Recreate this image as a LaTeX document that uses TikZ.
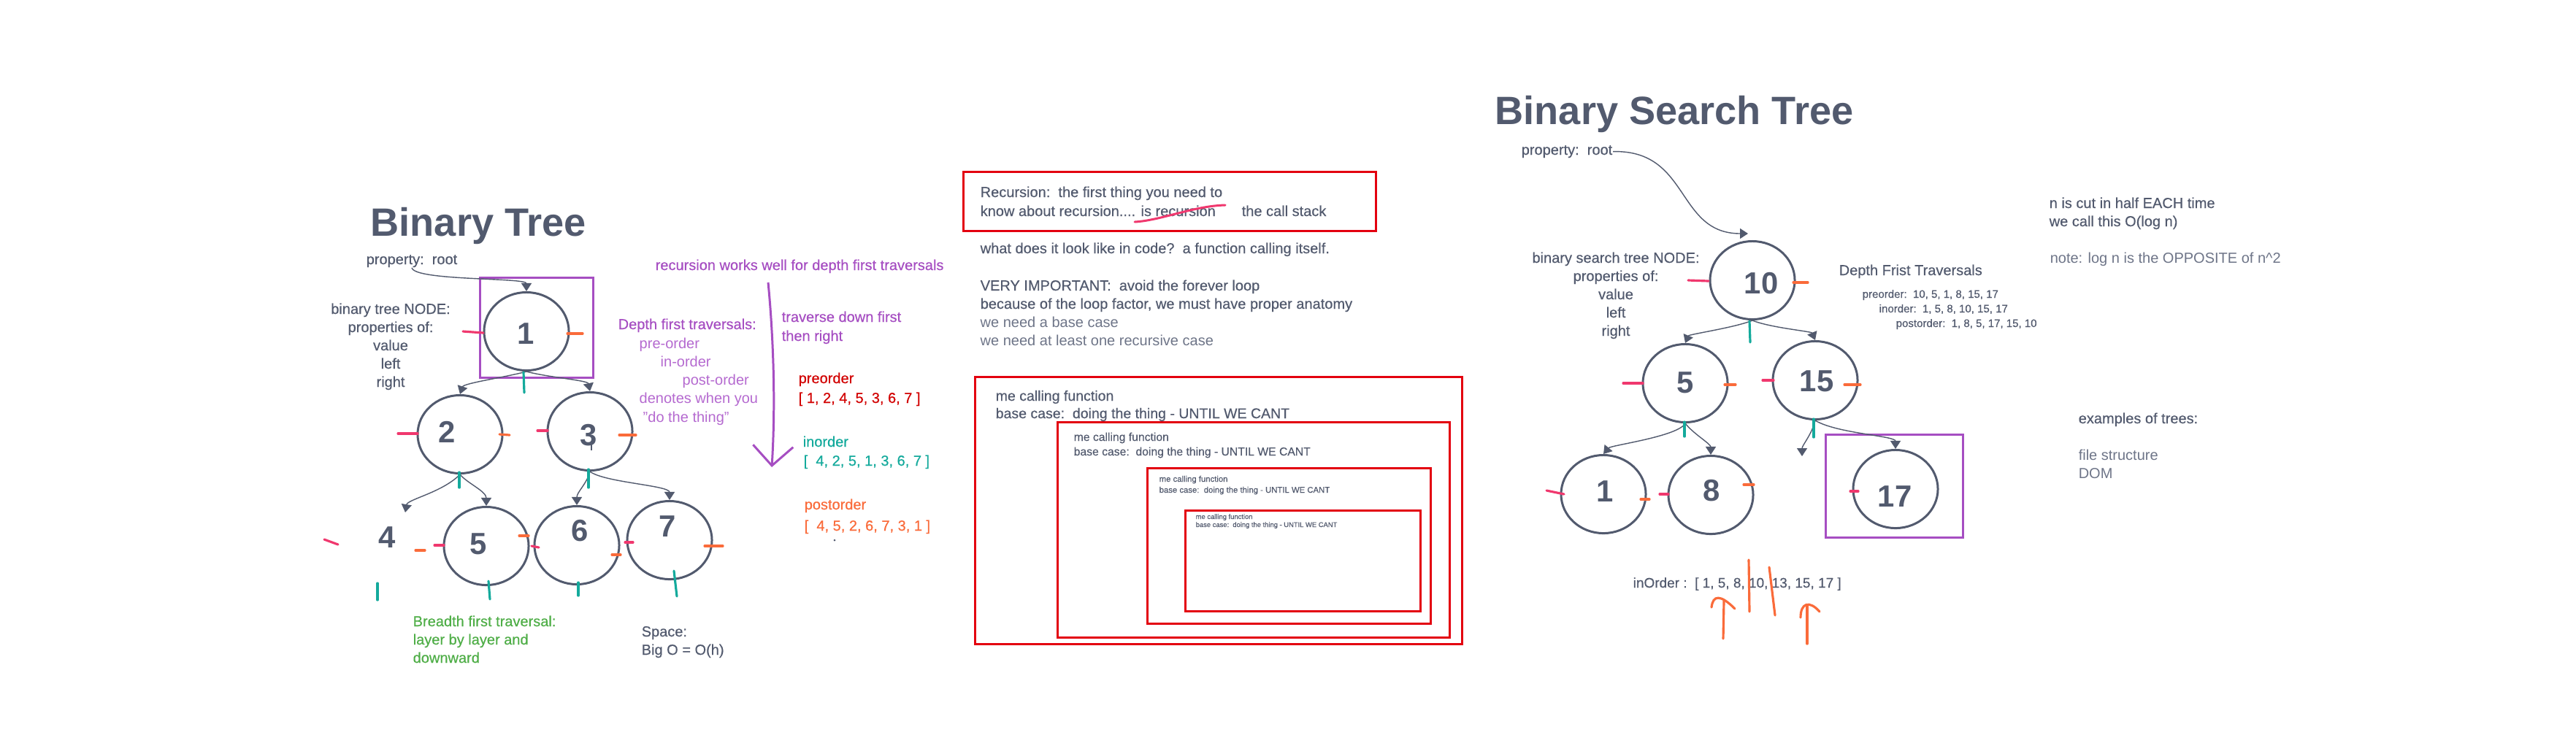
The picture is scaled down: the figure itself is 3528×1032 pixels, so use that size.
\documentclass[tikz,border=0pt]{standalone}
\usepackage{fontspec}
\setmainfont{Liberation Sans}
\newfontfamily\mediumfont{Liberation Sans}[FakeBold=0.35]
\usepackage{xcolor}
\usetikzlibrary{arrows.meta,shapes.geometric}

\definecolor{ink}{HTML}{525A6E}
\definecolor{inklight}{HTML}{6E7588}
\definecolor{purp}{HTML}{A64EC2}
\definecolor{purplight}{HTML}{B56AD0}
\definecolor{redc}{HTML}{E3000F}
\definecolor{redtxt}{HTML}{D20000}
\definecolor{tealc}{HTML}{14AA9C}
\definecolor{orangec}{HTML}{FA6B3A}
\definecolor{pinkc}{HTML}{F0386E}
\definecolor{greenc}{HTML}{4FAE47}

\newcommand{\fnote}{\mediumfont\fontsize{5.69pt}{7.1pt}\selectfont}
\newcommand{\flight}{\normalfont\fontsize{5.69pt}{7.1pt}\selectfont}
\newcommand{\ftitle}{\fontsize{15.4pt}{18pt}\selectfont\bfseries}
\newcommand{\fdigit}{\fontsize{11.9pt}{14pt}\selectfont\bfseries}
\newcommand{\fsmall}{\mediumfont\fontsize{4.27pt}{5pt}\selectfont}

\begin{document}
\begin{tikzpicture}[
x=0.01cm, y=-0.01cm,
tnode/.style={ellipse, draw=ink, line width=0.85pt, minimum width=1.16cm, minimum height=1.07cm, inner sep=0pt},
digit/.style={inner sep=0pt, text=ink, font=\fdigit},
note/.style={anchor=base west, inner sep=0pt, text=ink, font=\fnote},
thin/.style={font=\flight},
link/.style={draw=ink, line width=0.4pt, -{Triangle[length=1.1mm,width=1.4mm]}},
ltick/.style={draw=pinkc, line width=0.9pt, line cap=round},
rtick/.style={draw=orangec, line width=0.9pt, line cap=round},
dtick/.style={draw=tealc, line width=0.9pt, line cap=round},
hilite/.style={draw=purp, line width=0.85pt},
stackbox/.style={draw=redc, line width=0.85pt}
]
\fill[white] (0,0) rectangle (3528,1032);
\useasboundingbox (0,0) rectangle (3528,1032);

% binary tree
\node[note, font=\ftitle] (bttitle) at (507,323) {Binary Tree};
\node[note] (prop1) at (501,362) {property:\ \ root};
\foreach \t [count=\i] in {binary tree NODE:, properties of:, value, left, right}
  \node[note, anchor=base] (btattr\i) at (535,405+25*\i) {\t};

\node[tnode] (n1) at (721,454) {};
\node[tnode] (n2) at (630,595) {};
\node[tnode] (n3) at (808,591) {};
\node[tnode] (n5) at (666,748) {};
\node[tnode] (n6) at (790,747) {};
\node[tnode] (n7) at (917,740) {};
\node[digit] (d1) at (720,457) {1};
\node[digit] (d2) at (612,592) {2};
\node[digit] (d3) at (806,596) {3};
\node[digit] (d4) at (530,736) {4};
\node[digit] (d5) at (655,745) {5};
\node[digit] (d6) at (794,727) {6};
\node[digit] (d7) at (914,721) {7};
\coordinate (n4in) at (555,702);
\draw[hilite] (657,380) rectangle (812,517);

\draw[link] (prop1.south) .. controls (568,385) and (721,380) .. (n1.north);
\draw[link] (n1.south) .. controls +(-30,8) and +(5,-15) .. (n2.north);
\draw[link] (n1.south) .. controls +(30,8) and +(-3,-15) .. (n3.north);
\draw[link] (n2.south) .. controls +(-25,25) and +(3,-18) .. (n4in);
\draw[link] (n2.south) .. controls +(10,12) and +(0,-20) .. (n5.north);
\draw[link] (n3.south) .. controls +(-5,18) and +(0,-18) .. (n6.north);
\draw[link] (n3.south) .. controls +(20,15) and +(0,-20) .. (n7.north);
\draw[ink, line width=0.6pt] (810,604) -- (810,617);

% traversals
\node[note, text=purp] (recnote) at (897,370) {recursion works well for depth first traversals};
\node[note, text=purp] (trav1) at (1070,441) {traverse down first};
\node[note, text=purp] (trav2) at (1070,467) {then right};
\node[note, text=purp] (dft) at (846,451) {Depth first traversals:};
\foreach \x/\y/\t [count=\i] in {875/477/pre-order, 904/502/in-order, 934/527/post-order, 875/552/denotes when you, 880/578/"do the thing"}
  \node[note, thin, text=purplight] (dftline\i) at (\x,\y) {\t};
\coordinate (downtop) at (1052,387);
\coordinate (downtip) at (1057,640);
\draw[purp, line width=0.85pt, -{Straight Barb[length=2.7mm,width=5.5mm]}] (downtop) .. controls (1060,470) and (1062,560) .. (downtip);

\node[note, text=redtxt] (prel) at (1093,525) {preorder};
\node[note, text=redtxt] (prev) at (1093,552) {[ 1, 2, 4, 5, 3, 6, 7 ]};
\node[note, text=tealc] (inl) at (1099,612) {inorder};
\node[note, text=tealc] (inv) at (1100,638) {[\ \ 4, 2, 5, 1, 3, 6, 7 ]};
\node[note, text=orangec] (postl) at (1101,698) {postorder};
\node[note, text=orangec] (postv) at (1101,727) {[\ \ 4, 5, 2, 6, 7, 3, 1 ]};
\fill[ink] (1143,740) circle[radius=0.15mm];

\foreach \t [count=\i] in {Breadth first traversal:, layer by layer and, downward}
  \node[note, text=greenc] (bft\i) at (565,833+25*\i) {\t};
\node[note] (space1) at (878,872) {Space:};
\node[note] (space2) at (878,897) {Big O = O(h)};

% recursion
\draw[stackbox] (1319,235) rectangle (1884,316);
\node[note] (rec1) at (1342,270) {Recursion:\ \ the first thing you need to};
\node[note] (rec2) at (1342,296) {know about recursion.... is recursion};
\node[note] (rec3) at (1700,296) {the call stack};
\draw[pinkc, line width=0.85pt, line cap=round] (1554,304) .. controls (1590,302) and (1635,282) .. (1678,281);
\node[note] (code) at (1342,347) {what does it look like in code?\ \ a function calling itself.};
\node[note] (imp1) at (1342,398) {VERY IMPORTANT:\ \ avoid the forever loop};
\node[note] (imp2) at (1342,423) {because of the loop factor, we must have proper anatomy};
\node[note, thin, text=inklight] (imp3) at (1342,448) {we need a base case};
\node[note, thin, text=inklight] (imp4) at (1342,473) {we need at least one recursive case};

\draw[stackbox] (1335,516) rectangle (2002,882);
\draw[stackbox] (1448,578) rectangle (1985,873);
\draw[stackbox] (1571,641) rectangle (1959,854);
\draw[stackbox] (1623,699) rectangle (1945,837);
\foreach \x/\y/\s/\g [count=\i] in {1363/549/5.55/24, 1470/604/4.47/20, 1587/660/3.22/15, 1637/711/2.67/11} {
  \node[note, font=\mediumfont\fontsize{\s pt}{\s pt}\selectfont] (call\i) at (\x,\y) {me calling function};
  \node[note, font=\mediumfont\fontsize{\s pt}{\s pt}\selectfont] (base\i) at (\x,\y+\g) {base case:\ \ doing the thing - UNTIL WE CANT};
}

% binary search tree
\node[note, font=\ftitle] (bsttitle) at (2047,170) {Binary Search Tree};
\node[note] (prop2) at (2083,212) {property:\ \ root};
\foreach \t [count=\i] in {binary search tree NODE:, properties of:, value, left, right}
  \node[note, anchor=base] (bstattr\i) at (2213,335+25*\i) {\t};

\node[tnode] (m10) at (2400,384) {};
\node[tnode] (m5) at (2308,525) {};
\node[tnode] (m15) at (2486,521) {};
\node[tnode] (m1) at (2196,677) {};
\node[tnode] (m8) at (2343,678) {};
\node[tnode] (m17) at (2596,670) {};
\node[digit] (e10) at (2412,388) {10};
\node[digit] (e5) at (2308,524) {5};
\node[digit] (e15) at (2488,522) {15};
\node[digit] (e1) at (2198,673) {1};
\node[digit] (e8) at (2344,672) {8};
\node[digit] (e17) at (2595,680) {17};
\coordinate (rootin) at (2394,320);
\coordinate (m15nil) at (2468,625);
\draw[hilite] (2500,595) rectangle (2688,736);

\draw[link] (prop2.east) .. controls (2315,205) and (2295,320) .. (rootin);
\draw[link] (m10.south) .. controls +(-25,10) and +(5,-12) .. (m5.north);
\draw[link] (m10.south) .. controls +(25,10) and +(-5,-12) .. (m15.north);
\draw[link] (m5.south) .. controls +(-10,18) and +(10,-12) .. (m1.north);
\draw[link] (m5.south) .. controls +(12,15) and +(0,-15) .. (m8.north);
\draw[link] (m15.south) .. controls +(-5,20) and +(0,-15) .. (m15nil);
\draw[link] (m15.south) .. controls +(30,18) and +(0,-18) .. (m17.north);

\node[note] (dfs) at (2518,377) {Depth Frist Traversals};
\foreach \x/\y/\t [count=\i] in {2550/408/{preorder:\ \ 10, 5, 1, 8, 15, 17}, 2573/428/{inorder:\ \ 1, 5, 8, 10, 15, 17}, 2596/448/{postorder:\ \ 1, 8, 5, 17, 15, 10}}
  \node[note, font=\fsmall] (dfsline\i) at (\x,\y) {\t};
\node[note, font=\mediumfont\fontsize{5.4pt}{6pt}\selectfont] (inorder) at (2236,805) {inOrder :\ \ [ 1, 5, 8, 10, 13, 15, 17 ]};

\node[note] (half1) at (2806,285) {n is cut in half EACH time};
\node[note] (half2) at (2806,310) {we call this O(log n)};
\node[note, thin, text=inklight] (lognote) at (2807,360) {note: log n is the OPPOSITE of n\textasciicircum 2};
\node[note] (ex) at (2846,580) {examples of trees:};
\node[note, thin, text=inklight] (ex1) at (2846,630) {file structure};
\node[note, thin, text=inklight] (ex2) at (2846,655) {DOM};

% pen marks
\foreach \xa/\ya/\xb/\yb in {634/454/662/456, 545/594/572/594, 736/590/750/590, 444/739/463/746, 595/747/608/747, 728/748/738/750, 856/743/867/743, 2312/384/2340/385, 2223/525/2250/525, 2414/521/2429/521, 2118/672/2142/677, 2273/677/2285/677, 2534/673/2545/673}
  \draw[ltick] (\xa,\ya) -- (\xb,\yb);
\foreach \xa/\ya/\xb/\yb in {777/457/798/457, 684/595/698/596, 848/596/871/596, 569/754/582/754, 711/734/724/734, 838/760/850/760, 965/748/990/748, 2456/387/2476/387, 2362/527/2377/527, 2526/527/2548/527, 2247/684/2259/684, 2388/664/2402/664}
  \draw[rtick] (\xa,\ya) -- (\xb,\yb);
\foreach \xa/\ya/\xb/\yb in {717/510/718/538, 629/647/629/668, 806/643/806/668, 517/799/517/822, 669/796/671/821, 792/798/792/816, 923/782/927/817, 2396/440/2397/469, 2307/578/2307/598, 2484/574/2484/599}
  \draw[dtick] (\xa,\ya) -- (\xb,\yb);
\draw[rtick] (2395,767) -- (2396,838);
\draw[rtick] (2423,777) -- (2431,843);
\draw[rtick] (2360,875) -- (2361,823);
\draw[rtick] (2344,832) .. controls (2346,815) and (2356,814) .. (2376,834);
\draw[rtick] (2475,882) -- (2475,830);
\draw[rtick] (2466,846) .. controls (2466,826) and (2478,822) .. (2492,838);
\end{tikzpicture}
\end{document}
